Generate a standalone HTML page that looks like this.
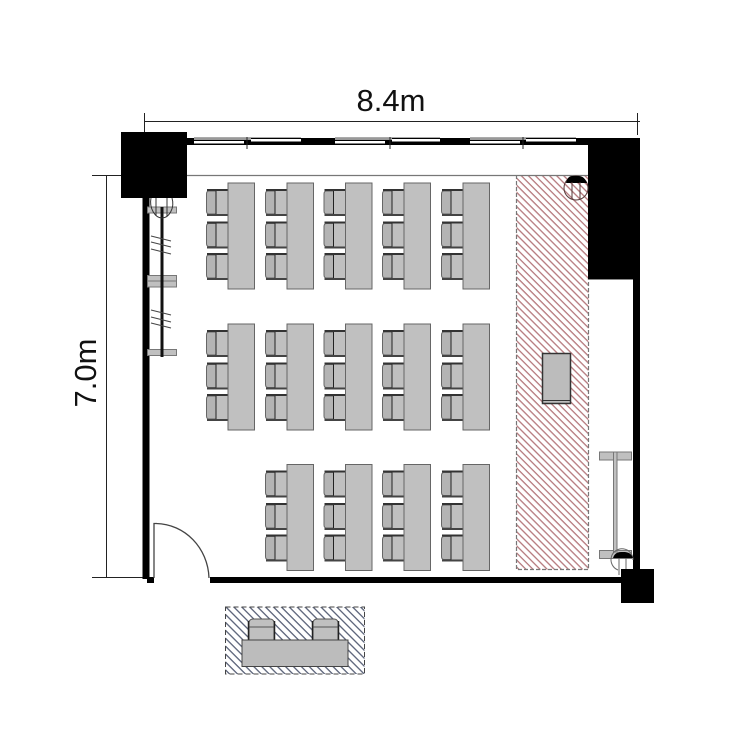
<!DOCTYPE html>
<html><head><meta charset="utf-8"><style>html,body{margin:0;padding:0;background:#fff;width:750px;height:750px;overflow:hidden}svg{display:block}</style></head><body>
<svg width="750" height="750" viewBox="0 0 750 750" xmlns="http://www.w3.org/2000/svg">
<defs>
<pattern id="r" width="5" height="5" patternUnits="userSpaceOnUse" patternTransform="rotate(45)"><rect width="5" height="5" fill="#fff"/><rect width="5" height="1.300" y="0" fill="#b5787c"/></pattern>
<pattern id="b" width="5.600" height="5.600" patternUnits="userSpaceOnUse" patternTransform="rotate(45)"><rect width="5.600" height="5.600" fill="#fff"/><rect width="5.600" height="1.300" fill="#5a6278"/></pattern>
<g id="c">
<path d="M10 2H22V25H10Z" fill="#c0c0c0"/>
<path d="M10 2H3Q0.500 2 0.500 5V22Q0.500 25 3 25H10Z" fill="#b4b4b4" stroke="#666"/>
<path d="M10 2V25" stroke="#222" stroke-width="1"/>
<rect x="1" y="0" width="21" height="2" fill="#333"/>
<rect x="1" y="25" width="21" height="2" fill="#444"/>
</g>
<g id="t">
<use href="#c" x="-22" y="6"/><use href="#c" x="-22" y="38.500"/><use href="#c" x="-22" y="70"/>
<rect x="0" y="0" width="26.500" height="106" fill="#c0c0c0" stroke="#666"/>
</g>
</defs>
<rect width="750" height="750" fill="#fff"/>

<!-- dimensions -->
<g stroke="#222" stroke-width="1" fill="none">
<path d="M144 121.500H640M144.500 113V132M637.500 113V135"/>
<path d="M106.500 175V577M92 175.500H121M92 577.500H145"/>
</g>
<text x="391" y="111" font-family="'Liberation Sans',sans-serif" font-size="31" text-anchor="middle" fill="#111">8.4m</text>
<text transform="translate(96,373) rotate(-90)" font-family="'Liberation Sans',sans-serif" font-size="31" text-anchor="middle" fill="#111">7.0m</text>

<!-- hatched area -->
<rect x="516.500" y="175.500" width="72" height="394" fill="url(#r)"/>
<path d="M516.500 175V569.500H588.500V279" fill="none" stroke="#777" stroke-width="1.200" stroke-dasharray="4 2"/>
<rect x="542.500" y="353.500" width="28" height="50" fill="#bcbcbc" stroke="#333" stroke-width="1.500"/>
<path d="M542 400.500H571" stroke="#333"/>

<!-- walls -->
<rect x="121" y="132" width="66" height="66" fill="#000"/>
<rect x="187" y="138" width="401" height="7" fill="#000"/>
<rect x="588" y="138" width="52" height="141" fill="#000"/>
<rect x="633" y="279" width="7" height="291" fill="#000"/>
<path d="M588 279.500H633" stroke="#888"/>
<rect x="621" y="569" width="33" height="34" fill="#000"/>
<rect x="210" y="577" width="411" height="6" fill="#000"/>
<rect x="142.500" y="198" width="7" height="381" fill="#000"/>
<rect x="147" y="577" width="7" height="6" fill="#000"/>
<path d="M187 175.500H588" stroke="#777" stroke-width="1.300"/>

<!-- windows -->
<g>
<rect x="194" y="137" width="57" height="3" fill="#999"/><rect x="194" y="141" width="50" height="2.500" fill="#fff"/>
<rect x="251" y="139" width="50" height="2.500" fill="#fff"/><rect x="194" y="137" width="107" height="1" fill="#aaa"/>
<path d="M247 137V149" stroke="#222"/>
</g>
<g>
<rect x="335" y="137" width="57" height="3" fill="#999"/><rect x="335" y="141" width="50" height="2.500" fill="#fff"/>
<rect x="392" y="139" width="48" height="2.500" fill="#fff"/><rect x="335" y="137" width="105" height="1" fill="#aaa"/>
<path d="M390 137V149" stroke="#222"/>
</g>
<g>
<rect x="470" y="137" width="56" height="3" fill="#999"/><rect x="470" y="141" width="50" height="2.500" fill="#fff"/>
<rect x="526" y="139" width="50" height="2.500" fill="#fff"/><rect x="470" y="137" width="106" height="1" fill="#aaa"/>
<path d="M523 137V149" stroke="#222"/>
</g>

<!-- door -->
<path d="M154 578V523.500H157M156 523.500C185 524 208 548 209 578" fill="none" stroke="#444" stroke-width="1.300"/>

<!-- left curtain -->
<g fill="#c0c0c0" stroke="#777">
<rect x="147.500" y="207" width="29" height="6"/>
<rect x="147.500" y="275.500" width="29" height="11.500"/>
<path d="M147.500 281H176.500" fill="none"/>
<rect x="147.500" y="349.500" width="29" height="6"/>
</g>
<rect x="160.500" y="207" width="3" height="150" fill="#111"/>
<path d="M151 198C149 208 155 218 162 218C169 218 175 208 172 198M156 198V216M167 198V216" fill="none" stroke="#333"/>
<g stroke="#444" stroke-width="1">
<path d="M151 236L171 241M151 242L171 247M151 249L171 254M151 310L171 315M151 317L171 322M151 323L171 328"/>
</g>

<!-- right door pivot top -->
<circle cx="576" cy="188" r="12" fill="none" stroke="#553a3a"/>
<path d="M566 183C568 175 571 176 576 176C581 176 584 176 587 183Z" fill="#000"/>
<path d="M572 182V199M580 182V199" stroke="#553a3a"/>

<!-- right screen -->
<g fill="#c0c0c0" stroke="#777">
<rect x="599.500" y="452" width="32" height="8"/>
<rect x="599.500" y="550.500" width="32" height="8"/>
<rect x="613.500" y="452" width="3.500" height="100" />
</g>
<path d="M618 570A11 11 0 1 1 633 560" fill="none" stroke="#666"/>
<path d="M613 558C615 552 619 552 623 552C628 552 631 553 633 558Z" fill="#000"/>
<path d="M619 558V575M626 558V570" stroke="#666"/>
<rect x="621" y="569" width="33" height="34" fill="#000"/>

<!-- desks -->
<use href="#t" x="228" y="183"/><use href="#t" x="287" y="183"/><use href="#t" x="345.500" y="183"/><use href="#t" x="404" y="183"/><use href="#t" x="463" y="183"/>
<use href="#t" x="228" y="324"/><use href="#t" x="287" y="324"/><use href="#t" x="345.500" y="324"/><use href="#t" x="404" y="324"/><use href="#t" x="463" y="324"/>
<use href="#t" x="287" y="464.500"/><use href="#t" x="345.500" y="464.500"/><use href="#t" x="404" y="464.500"/><use href="#t" x="463" y="464.500"/>

<!-- presenter legend -->
<rect x="225.500" y="607" width="139" height="67" fill="url(#b)" stroke="#444" stroke-dasharray="5 3"/>
<g fill="#c0c0c0" stroke="#555">
<path d="M249 641V622Q250 619 253 619H270Q273 619 274 622V641Z"/>
<path d="M249 627H274"/>
<path d="M313 641V622Q314 619 317 619H334Q337 619 338 622V641Z"/>
<path d="M313 627H338"/>
</g>
<path d="M248.500 640V621M274.500 640V621M312.500 640V621M338.500 640V621" stroke="#222" stroke-width="1.500"/>
<rect x="242" y="640" width="106" height="26.500" fill="#bcbcbc" stroke="#444"/>
</svg>
</body></html>
